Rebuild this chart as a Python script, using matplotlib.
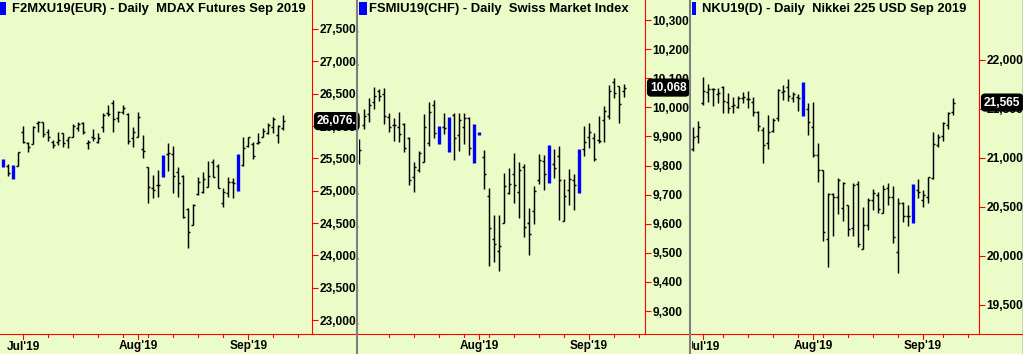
import matplotlib
matplotlib.use("Agg")
import matplotlib.pyplot as plt
from matplotlib.lines import Line2D
from matplotlib.patches import Rectangle
from matplotlib.transforms import blended_transform_factory

plt.rcParams['font.family'] = ['Liberation Sans', 'DejaVu Sans']

# ---------------- data ----------------
p1_title = "F2MXU19(EUR) - Daily  MDAX Futures Sep 2019"
p1_open = [25490, 25382, 25398, 25387, 25903, 25743, 25717, 26042, 26057, 25913, 25758, 25758, 25887, 25784, 25836, 25964, 26052, 25733, 25836, 25758, 25990, 26196, 26351, 26119, 26212, 26186, 25810, 25836, 25640, 25362, 25037, 25088, 25552, 25562, 25568, 25295, 25228, 24712, 24470, 24949, 24975, 25063, 25449, 25382, 24805, 24960, 25140, 25568, 25398, 25696, 25722, 25743, 25836, 25887, 25990, 25861, 25964]
p1_high = [25490, 25413, 25398, 25593, 26000, 25758, 26000, 26078, 26057, 25949, 25784, 25913, 25897, 25836, 26031, 26057, 26057, 25784, 25949, 25887, 26196, 26325, 26402, 26238, 26325, 26196, 25980, 26212, 25861, 25362, 25243, 25320, 25552, 25733, 25691, 25362, 25243, 24728, 24795, 25207, 25295, 25459, 25485, 25413, 25037, 25207, 25192, 25568, 25836, 25836, 25758, 25897, 25964, 26042, 26134, 26016, 26171]
p1_low = [25372, 25233, 25181, 25387, 25733, 25604, 25717, 25913, 25825, 25774, 25655, 25707, 25681, 25666, 25825, 25928, 25872, 25645, 25774, 25733, 25903, 26160, 25913, 26067, 26186, 25717, 25671, 25825, 25511, 24805, 24882, 24898, 25217, 25305, 24960, 24908, 24573, 24109, 24470, 24934, 24960, 25063, 25207, 25037, 24753, 24898, 24882, 25001, 25382, 25681, 25485, 25722, 25825, 25877, 25887, 25743, 25939]
p1_close = [25372, 25269, 25181, 25593, 25758, 25681, 25990, 26057, 25872, 25836, 25707, 25784, 25733, 25836, 26000, 26026, 25903, 25748, 25820, 25810, 26171, 26186, 26109, 26212, 26274, 25774, 25913, 26145, 25614, 25052, 25011, 25088, 25217, 25578, 25228, 25114, 24599, 24367, 24779, 25130, 25176, 25228, 25217, 25047, 24975, 25140, 25125, 25001, 25655, 25836, 25537, 25748, 25928, 26016, 26104, 26000, 26076]
p1_blue = [0, 2, 32, 47]
p1_yticks = [23000, 23500, 24000, 24500, 25000, 25500, 26000, 26500, 27000, 27500]
p1_month_pos = [4, 27, 49]
p1_month_lab = ["Jul'19", "Aug'19", "Sep'19"]
p1_week_pos = [9, 14, 19, 24, 29, 34, 39, 44, 54, 59]
p1_last = "26,076."

p2_title = "FSMIU19(CHF) - Daily  Swiss Market Index"
p2_open = [9844, 9939, 9976, 10017, 10057, 10046, 9968, 9941, 9931, 9943, 9893, 9759, 9785, 9813, 9876, 10008, 9936, 9931, 9967, 9974, 9905, 9931, 9964, 9943, 9915, 9828, 9695, 9546, 9506, 9604, 9704, 9771, 9708, 9796, 9601, 9644, 9750, 9815, 9870, 9807, 9833, 9610, 9716, 9752, 9857, 9856, 9899, 9893, 9888, 9956, 9970, 10086, 10073, 10057]
p2_high = [9891, 9996, 10031, 10069, 10063, 10065, 9982, 9962, 9983, 9947, 9897, 9813, 9850, 9977, 10019, 10027, 9936, 9982, 9967, 9979, 9982, 9979, 9968, 9943, 9915, 9853, 9724, 9630, 9630, 9775, 9790, 9844, 9812, 9804, 9655, 9730, 9840, 9836, 9870, 9857, 9867, 9754, 9788, 9771, 9857, 9936, 9947, 9911, 9970, 10004, 10077, 10100, 10074, 10082]
p2_low = [9805, 9925, 9951, 9994, 10023, 9943, 9916, 9885, 9882, 9845, 9733, 9710, 9777, 9811, 9868, 9896, 9874, 9908, 9848, 9819, 9851, 9874, 9836, 9810, 9906, 9718, 9456, 9470, 9439, 9604, 9701, 9672, 9621, 9555, 9492, 9599, 9736, 9716, 9741, 9758, 9613, 9609, 9664, 9647, 9707, 9833, 9862, 9817, 9878, 9882, 9959, 10031, 9947, 10034]
p2_close = [9853, 9970, 10008, 10039, 10039, 9970, 9931, 9939, 9908, 9862, 9750, 9796, 9842, 9931, 9985, 9913, 9874, 9928, 9848, 9893, 9956, 9962, 9859, 9810, 9906, 9771, 9584, 9530, 9524, 9730, 9736, 9733, 9785, 9590, 9563, 9712, 9819, 9771, 9741, 9790, 9750, 9695, 9754, 9733, 9707, 9882, 9914, 9821, 9884, 9987, 10056, 10051, 10010, 10068]
p2_blue = [16, 18, 23, 24, 38, 44]
p2_yticks = [9300, 9400, 9500, 9600, 9700, 9800, 9900, 10000, 10100, 10200, 10300]
p2_month_pos = [24, 46]
p2_month_lab = ["Aug'19", "Sep'19"]
p2_week_pos = [6, 11, 16, 21, 26, 31, 36, 41, 51, 56]
p2_last = "10,068"

p3_title = "NKU19(D) - Daily  Nikkei 225 USD Sep 2019"
p3_open = [21087, 21223, 21557, 21676, 21700, 21653, 21727, 21574, 21530, 21523, 21608, 21598, 21567, 21465, 21285, 21148, 21278, 21404, 21676, 21721, 21608, 21625, 21772, 21496, 21312, 21029, 20876, 20167, 20630, 20596, 20484, 20518, 20279, 20729, 20065, 20313, 20569, 20620, 20440, 20688, 20596, 20041, 20535, 20406, 20733, 20671, 20569, 20596, 20791, 21131, 21227, 21336, 21472]
p3_high = [21312, 21377, 21830, 21755, 21710, 21710, 21738, 21659, 21625, 21632, 21676, 21683, 21618, 21482, 21312, 21438, 21411, 21704, 21745, 21806, 21670, 21653, 21772, 21557, 21567, 21148, 20876, 20637, 20637, 20791, 20756, 20518, 20746, 20763, 20501, 20586, 20678, 20654, 20722, 20739, 20712, 20586, 20552, 20518, 20733, 20784, 20671, 20808, 21261, 21240, 21363, 21465, 21608]
p3_low = [21073, 21155, 21540, 21574, 21533, 21564, 21462, 21455, 21462, 21506, 21557, 21506, 21428, 21278, 20951, 21087, 21267, 21380, 21591, 21584, 21567, 21482, 21431, 21234, 21012, 20756, 20153, 19888, 20205, 20426, 20358, 20205, 20205, 20085, 20065, 20262, 20467, 20440, 20440, 20518, 20126, 19826, 20348, 20307, 20337, 20586, 20501, 20542, 20780, 21114, 21176, 21291, 21438]
p3_close = [21216, 21312, 21687, 21704, 21704, 21666, 21584, 21506, 21540, 21608, 21625, 21598, 21472, 21325, 21131, 21267, 21387, 21693, 21687, 21636, 21653, 21608, 21431, 21363, 21029, 20876, 20239, 20630, 20596, 20774, 20746, 20269, 20722, 20119, 20313, 20569, 20637, 20474, 20678, 20603, 20194, 20542, 20406, 20406, 20337, 20654, 20620, 20801, 21141, 21216, 21353, 21455, 21565]
p3_blue = [22, 44]
p3_yticks = [19500, 20000, 20500, 21000, 21500, 22000]
p3_month_pos = [2, 24, 46]
p3_month_lab = ["Jul'19", "Aug'19", "Sep'19"]
p3_week_pos = [6, 11, 16, 21, 26, 31, 36, 41, 50, 55]
p3_last = "21,565"

# ---------------- styling / layout ----------------
W, H = 1023, 354
BG = '#ECFCC8'
RED = '#FF0000'
BLUE = '#0000FF'
GRAY = '#7F7F7F'
FS = 8.6
BASE_Y = 334  # pixel row of the red time axis

fig = plt.figure(figsize=(W / 100, H / 100), dpi=100)
fig.patch.set_facecolor(BG)


def fx(px):
    return px / W


def fy(py):
    return 1 - py / H


panels = [
    dict(title=p1_title, O=p1_open, Hh=p1_high, L=p1_low, C=p1_close, blue=p1_blue,
         yt=p1_yticks, fmt="{:,.0f}.", mpos=p1_month_pos, mlab=p1_month_lab, wpos=p1_week_pos,
         last=p1_last, x0=0, x1=312, xr=357, xlim=(-0.66, 61.74), ylim=(22785, 27948),
         brect=(0, 6)),
    dict(title=p2_title, O=p2_open, Hh=p2_high, L=p2_low, C=p2_close, blue=p2_blue,
         yt=p2_yticks, fmt="{:,.0f}", mpos=p2_month_pos, mlab=p2_month_lab, wpos=p2_week_pos,
         last=p2_last, x0=359, x1=645, xr=690, xlim=(0.0, 57.2), ylim=(9221, 10369),
         brect=(359, 367)),
    dict(title=p3_title, O=p3_open, Hh=p3_high, L=p3_low, C=p3_close, blue=p3_blue,
         yt=p3_yticks, fmt="{:,.0f}", mpos=p3_month_pos, mlab=p3_month_lab, wpos=p3_week_pos,
         last=p3_last, x0=690, x1=979, xr=1023, xlim=(-0.6, 57.2), ylim=(19200, 22613),
         brect=(692, 696)),
]
panel_left = [0, 357, 690]

for k, p in enumerate(panels):
    ax = fig.add_axes([fx(p['x0']), fy(BASE_Y), fx(p['x1'] - p['x0']), (BASE_Y) / H])
    ax.set_facecolor(BG)
    ax.patch.set_alpha(0)
    ax.set_xlim(*p['xlim'])
    ax.set_ylim(*p['ylim'])
    for s in ['left', 'top', 'bottom']:
        ax.spines[s].set_visible(False)
    ax.spines['right'].set_color(RED)
    ax.spines['right'].set_linewidth(0.8)

    n = len(p['O'])
    xs = list(range(n))
    blk = [i for i in xs if i not in p['blue']]
    ax.vlines([xs[i] for i in blk], [p['L'][i] for i in blk], [p['Hh'][i] for i in blk],
              color='black', lw=1.05, zorder=3)
    ax.hlines([p['O'][i] for i in blk], [xs[i] - 0.42 for i in blk], [xs[i] for i in blk],
              color='black', lw=1.05, zorder=3)
    ax.hlines([p['C'][i] for i in blk], [xs[i] for i in blk], [xs[i] + 0.42 for i in blk],
              color='black', lw=1.05, zorder=3)
    bl = p['blue']
    ax.vlines([xs[i] for i in bl], [p['L'][i] for i in bl], [p['Hh'][i] for i in bl],
              color=BLUE, lw=2.4, zorder=3, capstyle='butt')

    # y axis on the right
    ax.yaxis.tick_right()
    ax.set_yticks(p['yt'])
    ax.set_yticklabels([p['fmt'].format(v) for v in p['yt']])
    ax.tick_params(axis='y', length=4, width=0.8, color=RED, labelcolor='black',
                   pad=1.5, labelsize=FS)
    for lbl in ax.get_yticklabels():
        lbl.set_fontweight('bold')

    # x axis ticks (drawn manually so they can sit on the full-width red line)
    ax.set_xticks([])
    bt = blended_transform_factory(ax.transData, fig.transFigure)
    for pos, lab in zip(p['mpos'], p['mlab']):
        ln = Line2D([pos, pos], [fy(BASE_Y), fy(BASE_Y + 5)], transform=bt, color=RED, lw=0.8)
        fig.add_artist(ln)
        fig.text(pos, fy(346.5), lab, transform=bt, fontsize=FS, fontweight='bold',
                 ha='center', va='center')
    for pos in p['wpos']:
        ln = Line2D([pos, pos], [fy(BASE_Y), fy(BASE_Y + 3)], transform=bt, color=RED, lw=0.8)
        fig.add_artist(ln)

    # title with blue marker
    a, b = p['brect']
    fig.add_artist(Rectangle((fx(a), fy(15)), fx(b - a), 13 / H, transform=fig.transFigure,
                             facecolor=BLUE, edgecolor='none'))
    fig.text(fx(panel_left[k] + 12), fy(9), p['title'], fontsize=9.4, fontweight='bold',
             ha='left', va='center')

    # last price tag
    lt = blended_transform_factory(fig.transFigure, ax.transData)
    fig.text(fx(p['x1'] + 5), p['C'][-1], p['last'], transform=lt, color='white',
             fontsize=FS, fontweight='bold', ha='left', va='center', zorder=10,
             bbox=dict(boxstyle='round,pad=0.2,rounding_size=0.3', fc='black', ec='black'))

# mask so the first month label of a panel is cut by the panel border
fig.add_artist(Rectangle((fx(676), 0), fx(16), fy(BASE_Y + 1), transform=fig.transFigure,
                         facecolor=BG, edgecolor='none', zorder=15))

# red time axis line across the whole width
fig.add_artist(Line2D([0, 1], [fy(BASE_Y), fy(BASE_Y)], transform=fig.transFigure,
                      color=RED, lw=0.8, zorder=16))
# panel separators
for xp in [357, 690]:
    fig.add_artist(Line2D([fx(xp), fx(xp)], [0, 1], transform=fig.transFigure,
                          color=GRAY, lw=1.5, zorder=20))
fig.add_artist(Line2D([fx(1022.5), fx(1022.5)], [0, 1], transform=fig.transFigure,
                      color='#404040', lw=1.0, zorder=20))

fig.savefig('out.png', dpi=100, facecolor=BG)
